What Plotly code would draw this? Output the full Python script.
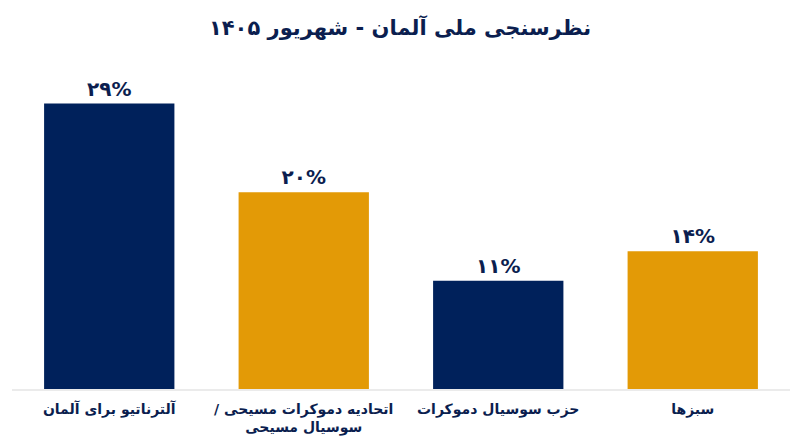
import plotly.graph_objs as go

# Poll data (Sept 2026 / Shahrivar 1405)
categories = [
    "آلترناتیو برای آلمان",
    "اتحادیه دموکرات مسیحی /\u200f<br>سوسیال مسیحی",
    "حزب سوسیال دموکرات",
    "سبزها",
]
values = [29, 20, 11, 14]
bar_colors = ["#00215B", "#E39A06", "#00215B", "#E39A06"]

NAVY = "#0B1E4F"
FA_DIGITS = str.maketrans("0123456789", "۰۱۲۳۴۵۶۷۸۹")


def fa_pct(v):
    # Persian digits with a percent sign
    return str(v).translate(FA_DIGITS) + "%"


fig = go.Figure()
fig.add_trace(
    go.Bar(
        x=categories,
        y=values,
        marker=dict(color=bar_colors, line=dict(width=0)),
        text=[fa_pct(v) for v in values],
        textposition="outside",
        textfont=dict(size=20, color=NAVY, family="DejaVu Sans", weight="bold"),
        cliponaxis=False,
        hoverinfo="skip",
    )
)

# the page body adds an 8px offset, margins compensate for it
fig.update_layout(
    width=800,
    height=447,
    template=None,
    paper_bgcolor="white",
    plot_bgcolor="white",
    margin=dict(l=4, r=18, t=66, b=66),
    bargap=0.33,
    showlegend=False,
    title=dict(
        text="<b>نظرسنجی ملی آلمان - شهریور ۱۴۰۵</b>",
        x=0.49,
        xanchor="center",
        y=0.955,
        yanchor="middle",
        font=dict(size=21, color=NAVY, family="DejaVu Sans"),
    ),
    xaxis=dict(
        showgrid=False,
        showline=True,
        linecolor="#EBEBEB",
        linewidth=2,
        ticks="",
        automargin=False,
        ticklabelstandoff=6,
        tickfont=dict(size=14, color=NAVY, family="DejaVu Sans", weight="bold"),
        fixedrange=True,
    ),
    yaxis=dict(
        range=[0, 32],
        showgrid=False,
        zeroline=False,
        showticklabels=False,
        automargin=False,
        fixedrange=True,
    ),
)

fig.write_html("out.html")
